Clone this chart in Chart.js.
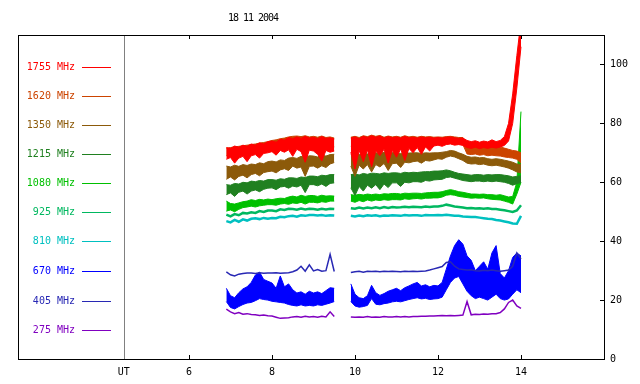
<!DOCTYPE html>
<html>
<head>
<meta charset="utf-8">
<script src="https://cdn.jsdelivr.net/npm/chart.js@4.4.1/dist/chart.umd.min.js"></script>
<style>
  html, body { margin: 0; padding: 0; background: #fff; }
  #wrap { width: 640px; height: 384px; }
</style>
</head>
<body>
<div id="wrap"><canvas id="graphCanvas" width="640" height="384"></canvas></div>
<script>
// UT hours; 9.7 is the data gap
const times = [6.9,7.0,7.1,7.2,7.3,7.4,7.5,7.6,7.7,7.8,7.9,8.0,8.1,8.2,8.3,8.4,8.5,8.6,8.7,8.8,8.9,9.0,9.1,9.2,9.3,9.4,9.5,
  9.7,
  9.9,10.0,10.1,10.2,10.3,10.4,10.5,10.6,10.7,10.8,10.9,11.0,11.1,11.2,11.3,11.4,11.5,11.6,11.7,11.8,11.9,12.0,
  12.1,12.2,12.3,12.4,12.5,12.6,12.7,12.8,12.9,13.0,13.1,13.2,13.3,13.4,13.5,13.6,13.7,13.8,13.9,14.0];

const xTickValues = [4.43, 6, 8, 10, 12, 14];
const xTickLabels = ['UT', '6', '8', '10', '12', '14'];
const yTickValues = [0, 20, 40, 60, 80, 100];
const legendLabels = ['1755 MHz','1620 MHz','1350 MHz','1215 MHz','1080 MHz','925 MHz','810 MHz','670 MHz','405 MHz','275 MHz'];
const legendColors = ['#ff0000','#cc4400','#8c5a0a','#208020','#00c000','#00b860','#00c0c0','#0000ff','#2828b4','#8000c0'];
const legendRows = [99.3, 89.3, 79.4, 69.5, 59.7, 49.8, 39.9, 29.8, 19.8, 9.9];

const f1755hi = [71.8,71.5,72.3,71.9,72.6,72.2,73.0,72.6,73.4,73.0,73.8,74.0,73.6,74.6,74.3,75.2,74.8,75.4,74.9,75.6,75.0,75.3,74.8,75.5,74.9,75.1,74.7,
  null,
  75.0,75.4,74.8,75.6,75.2,75.8,75.3,75.7,75.0,75.5,75.1,75.4,75.0,75.6,75.1,75.3,75.0,75.4,75.1,75.3,75.0,75.2,75.0,75.3,75.4,75.1,74.9,75.0,74.2,73.8,74.1,73.6,74.0,73.7,74.4,73.8,74.2,75.5,80.0,90.0,103.0,115.0];
const f1755lo = [67.8,68.4,66.5,68.2,68.8,67.0,69.0,69.4,68.2,69.8,70.0,70.4,69.2,70.8,70.2,71.0,68.8,71.2,70.4,66.8,70.9,70.6,69.5,67.2,70.8,70.2,70.6,
  null,
  70.2,64.5,70.8,67.0,71.0,65.2,70.6,69.0,71.2,66.5,70.8,68.5,71.3,67.4,71.5,70.0,71.8,69.5,72.0,70.6,72.3,72.6,72.2,72.8,73.0,72.6,72.8,72.5,71.8,71.5,71.9,71.4,71.8,71.5,71.9,71.6,72.0,72.5,74.0,80.0,92.0,106.0];

const f1620hi = [71.5,71.8,72.0,72.2,72.4,72.6,72.8,73.0,73.3,73.5,73.8,74.2,74.4,74.8,75.0,75.4,75.6,75.7,75.5,75.8,75.4,75.6,75.3,75.7,75.2,75.4,75.0,
  null,
  75.3,75.6,75.2,75.8,75.5,76.0,75.6,75.9,75.3,75.7,75.4,75.6,75.3,75.8,75.4,75.6,75.3,75.6,75.4,75.5,75.3,75.4,75.3,75.5,75.6,75.4,75.2,75.2,73.0,72.6,72.8,72.4,72.6,72.2,72.4,72.2,72.0,71.6,71.2,70.8,70.6,70.0];
const f1620lo = [69.0,69.4,69.6,69.8,70.0,70.2,70.4,70.6,70.8,71.0,71.2,71.4,71.6,71.8,72.0,72.2,72.2,72.4,72.2,72.4,72.2,72.3,72.1,72.3,72.0,72.2,72.0,
  null,
  72.2,72.4,72.2,72.6,72.4,72.6,72.4,72.6,72.4,72.6,72.5,72.6,72.5,72.7,72.6,72.7,72.6,72.7,72.6,72.8,72.7,72.8,72.8,73.0,73.2,73.0,72.9,72.8,69.6,69.4,69.6,69.2,69.4,69.0,69.2,69.0,68.9,68.6,68.4,68.2,67.8,66.5];

const f1350hi = [65.5,65.2,65.8,65.4,66.0,65.7,66.2,66.0,66.6,66.3,67.0,67.2,66.9,67.6,67.4,68.2,68.4,68.1,68.8,68.5,69.0,68.9,68.6,69.2,68.9,69.4,69.5,
  null,
  69.5,69.8,69.4,70.0,69.6,70.2,70.0,69.8,70.2,69.9,70.1,70.0,69.8,70.1,69.9,70.0,70.0,69.8,70.0,69.9,70.0,70.0,70.2,70.4,70.8,70.6,70.0,69.5,68.8,68.5,68.6,68.3,68.4,68.0,67.8,68.0,67.8,67.5,67.2,66.8,66.2,66.0];
const f1350lo = [61.0,61.8,60.8,62.0,62.4,61.5,62.6,63.0,62.2,63.3,63.6,63.8,63.2,64.2,64.6,64.0,65.5,64.8,65.2,62.0,65.4,65.5,64.8,65.6,65.0,66.2,66.7,
  null,
  65.5,62.0,65.8,64.5,66.0,63.5,66.0,65.2,66.4,64.0,66.3,66.5,65.0,66.8,66.6,67.0,67.2,66.5,67.4,67.2,67.6,68.0,67.8,68.5,68.9,68.6,68.0,67.4,66.5,66.2,66.3,66.0,66.2,65.8,65.6,65.8,65.5,65.2,64.8,64.2,63.5,63.2];

const f1215hi = [59.2,59.0,59.6,59.4,60.0,59.8,60.4,60.2,60.6,60.4,60.9,60.9,60.7,61.2,61.0,61.5,61.5,61.3,61.8,61.6,62.1,62.1,61.9,62.4,62.2,62.6,62.6,
  null,
  62.6,62.8,62.5,63.0,62.7,63.1,63.0,62.8,63.2,63.0,63.2,63.2,63.0,63.4,63.2,63.4,63.3,63.5,63.6,63.6,63.8,63.8,63.9,64.2,63.9,63.4,63.0,62.8,62.6,62.4,62.6,62.6,62.4,62.6,62.5,62.6,62.6,62.4,62.2,61.8,62.0,62.2];
const f1215lo = [55.8,56.4,55.2,56.6,57.0,56.0,57.0,57.4,56.8,57.6,58.0,58.1,57.5,58.4,58.6,58.0,58.7,58.4,59.0,56.5,59.2,59.2,58.8,59.4,58.6,59.6,59.8,
  null,
  58.1,55.5,58.6,57.0,59.0,58.0,59.2,57.5,59.4,58.2,59.8,59.8,58.6,60.0,59.8,60.2,60.2,60.0,60.6,60.4,60.8,60.9,61.0,61.6,61.8,61.4,61.0,60.6,60.4,60.2,60.4,60.4,60.2,60.4,60.2,60.4,60.2,60.0,59.6,59.0,59.5,60.0];

const f1080hi = [53.6,52.8,52.6,53.0,53.4,53.6,54.1,53.8,54.2,54.0,54.3,54.1,54.4,54.6,54.5,55.0,55.3,55.0,55.6,55.2,55.5,55.5,55.2,55.6,55.3,55.4,55.3,
  null,
  55.8,55.6,55.9,55.7,56.0,55.8,56.0,55.8,56.1,56.0,56.2,56.2,56.0,56.3,56.2,56.3,56.3,56.2,56.4,56.5,56.6,56.6,56.8,57.2,57.5,57.2,56.8,56.6,56.3,56.0,56.0,55.9,56.0,55.8,55.8,55.6,55.8,55.4,55.0,55.2,60.0,84.0];
const f1080lo = [50.2,50.6,50.0,50.8,51.4,51.6,51.9,51.6,52.0,52.2,52.4,52.4,52.2,52.6,52.8,52.5,53.0,52.8,53.2,52.6,53.2,53.2,53.0,53.4,53.2,53.6,53.6,
  null,
  53.6,53.2,53.8,53.4,54.0,53.6,54.0,53.8,54.1,53.9,54.1,54.1,54.0,54.4,54.2,54.4,54.5,54.3,54.6,54.6,54.7,54.7,55.0,55.6,55.8,55.6,55.2,55.0,54.8,54.6,54.7,54.6,54.7,54.4,54.2,54.1,54.0,53.6,53.2,52.6,56.0,60.0];

const f925 = [49.0,48.4,49.2,48.8,49.6,49.4,49.8,49.6,50.2,49.9,50.4,50.4,50.2,50.8,50.6,51.0,50.9,50.7,51.1,50.8,51.0,50.9,50.7,51.0,50.8,51.0,50.9,
  null,
  51.2,51.0,51.4,51.1,51.4,51.2,51.5,51.2,51.6,51.3,51.6,51.4,51.5,51.7,51.5,51.7,51.6,51.5,51.8,51.6,51.8,51.8,52.0,52.4,52.1,51.8,51.6,51.4,51.2,51.3,51.1,51.2,51.0,51.2,50.9,50.9,50.7,50.5,50.2,49.9,50.4,52.2];

const f810 = [46.8,46.4,47.2,46.6,47.4,47.0,47.6,47.8,47.5,47.9,47.6,47.9,47.8,48.3,48.1,48.5,48.6,48.3,48.8,48.6,48.9,48.9,48.7,48.9,48.6,48.8,48.7,
  null,
  48.6,48.4,48.7,48.5,48.8,48.6,48.8,48.5,48.7,48.6,48.8,48.7,48.6,48.9,48.7,48.8,48.8,48.6,48.9,48.8,48.8,48.9,48.8,49.0,48.8,48.6,48.6,48.4,48.3,48.2,48.2,48.0,47.8,47.6,47.5,47.2,47.0,46.7,46.4,46.0,45.9,48.6];

const f670hi = [24.0,21.5,20.8,22.5,23.8,24.5,26.0,28.5,29.5,27.0,26.4,25.8,24.0,28.2,24.5,25.5,23.5,22.4,22.8,22.0,23.0,22.4,22.8,22.2,23.2,24.2,24.0,
  null,
  25.5,22.0,20.8,20.5,21.5,25.0,22.5,21.6,22.2,23.0,23.5,24.0,23.2,24.2,24.8,25.5,26.0,24.8,25.2,24.5,25.0,24.8,26.0,30.5,35.0,38.5,40.5,39.0,35.0,33.5,30.0,31.5,33.0,30.5,36.0,38.5,29.0,27.5,30.0,34.5,36.0,35.0];
const f670lo = [19.5,17.5,17.0,17.8,18.5,19.0,19.2,19.8,20.5,20.2,20.0,19.6,19.4,19.2,19.0,18.5,18.2,18.0,18.4,18.0,18.2,18.0,18.4,18.2,18.6,19.0,19.5,
  null,
  19.5,18.0,17.6,17.8,18.2,20.5,18.6,18.4,18.8,19.0,19.4,19.6,19.4,19.8,20.2,20.5,20.8,20.4,20.6,20.2,20.4,20.5,21.0,23.5,26.0,27.5,28.0,25.5,23.0,21.5,20.5,21.0,20.5,20.0,21.0,22.0,20.5,20.0,20.4,22.0,23.5,22.5];

const f405 = [29.6,28.6,28.2,28.8,29.0,29.2,29.2,29.0,29.3,29.1,29.2,29.2,29.3,29.1,29.2,29.3,29.6,30.2,31.5,29.8,32.0,29.9,30.4,29.8,30.0,35.5,29.7,
  null,
  29.4,29.6,29.8,29.5,29.8,29.7,29.8,29.6,29.8,29.7,29.8,29.7,29.6,29.8,29.7,29.8,29.7,29.8,29.9,30.2,30.6,31.0,31.4,32.8,33.0,31.5,30.6,30.4,30.2,30.3,30.0,29.9,30.1,30.0,30.2,30.0,29.8,30.0,30.2,31.5,36.0,34.0];

const f275 = [16.9,16.0,15.4,15.8,15.2,15.4,15.1,15.0,14.8,14.9,14.7,14.6,14.2,13.8,13.9,14.0,14.3,14.4,14.2,14.5,14.3,14.4,14.2,14.5,14.3,16.0,14.4,
  null,
  14.3,14.2,14.3,14.2,14.4,14.2,14.3,14.2,14.4,14.3,14.3,14.4,14.3,14.4,14.3,14.4,14.4,14.5,14.5,14.6,14.6,14.7,14.8,14.7,14.8,14.7,14.8,14.9,19.5,15.0,15.2,15.1,15.3,15.2,15.4,15.4,15.8,17.0,19.2,20.0,18.0,17.2];

// [hi, lo or null, colour, line width]; first entry is drawn on top
const series = [
  [f1755hi, f1755lo, legendColors[0], 1],
  [f1620hi, f1620lo, legendColors[1], 1],
  [f1350hi, f1350lo, legendColors[2], 1],
  [f1215hi, f1215lo, legendColors[3], 1],
  [f1080hi, f1080lo, legendColors[4], 1],
  [f925, null, legendColors[5], 2.5],
  [f810, null, legendColors[6], 2.5],
  [f405, null, legendColors[8], 1.5],
  [f670hi, f670lo, legendColors[7], 1],
  [f275, null, legendColors[9], 1.5]
];

const toPoints = arr => {
  if (arr.length !== times.length) throw new Error('length mismatch ' + arr.length);
  return times.map((t, i) => ({ x: t, y: arr[i] }));
};

const datasets = [];
series.forEach(([hi, lo, color, w]) => {
  datasets.push({ data: toPoints(hi), borderColor: color, backgroundColor: color, borderWidth: w, fill: false });
  if (lo) datasets.push({ data: toPoints(lo), borderColor: color, backgroundColor: color, borderWidth: w, fill: '-1' });
});

const monoFont = { family: 'DejaVu Sans Mono', size: 10 };

const framePlugin = {
  id: 'frame',
  afterDraw(chart) {
    const c = chart.ctx;
    const a = chart.chartArea;
    const xs = chart.scales.x, ys = chart.scales.y;
    c.save();
    // title
    c.fillStyle = '#000';
    c.font = '10px "DejaVu Sans Mono"';
    c.letterSpacing = '-1px';
    c.textAlign = 'center';
    c.textBaseline = 'middle';
    c.fillText('18 11 2004', 253, 18);
    c.letterSpacing = '0px';
    // UT line
    const ux = Math.round(xs.getPixelForValue(xTickValues[0])) + 0.5;
    c.strokeStyle = '#808080';
    c.lineWidth = 1;
    c.beginPath(); c.moveTo(ux, a.top); c.lineTo(ux, a.bottom); c.stroke();
    // frame
    c.strokeStyle = '#000';
    c.strokeRect(a.left + 0.5, a.top + 0.5, a.right - a.left, a.bottom - a.top);
    // tick marks
    c.beginPath();
    xTickValues.slice(1).forEach(v => {
      const px = Math.round(xs.getPixelForValue(v)) + 0.5;
      c.moveTo(px, a.bottom); c.lineTo(px, a.bottom - 4);
      c.moveTo(px, a.top); c.lineTo(px, a.top + 4);
    });
    yTickValues.forEach(v => {
      const py = Math.round(ys.getPixelForValue(v)) + 0.5;
      c.moveTo(a.right, py); c.lineTo(a.right - 4, py);
    });
    c.stroke();
    // legend
    c.font = '10px "DejaVu Sans Mono"';
    c.textAlign = 'right';
    c.lineWidth = 1;
    legendLabels.forEach((lab, i) => {
      const py = Math.round(ys.getPixelForValue(legendRows[i])) + 0.5;
      c.fillStyle = legendColors[i];
      c.fillText(lab, 75, py);
      c.strokeStyle = legendColors[i];
      c.beginPath(); c.moveTo(82, py); c.lineTo(111, py); c.stroke();
    });
    c.restore();
  }
};

new Chart(document.getElementById('graphCanvas').getContext('2d'), {
  type: 'line',
  data: { datasets },
  options: {
    responsive: false,
    animation: false,
    events: [],
    spanGaps: false,
    layout: { padding: { left: 18, top: 35, right: 0, bottom: 0 } },
    elements: { point: { radius: 0 }, line: { tension: 0 } },
    plugins: { legend: { display: false }, tooltip: { enabled: false }, title: { display: false } },
    scales: {
      x: {
        type: 'linear', min: 1.88, max: 16,
        grid: { display: false, drawTicks: false }, border: { display: false },
        afterBuildTicks: s => { s.ticks = xTickValues.map(v => ({ value: v })); },
        afterFit: s => { s.height = 25; },
        ticks: {
          color: '#000', font: monoFont, padding: 7, maxRotation: 0, autoSkip: false,
          callback: (v) => xTickLabels[xTickValues.indexOf(v)]
        }
      },
      y: {
        type: 'linear', position: 'right', min: 0, max: 110,
        grid: { display: false, drawTicks: false }, border: { display: false },
        afterBuildTicks: s => { s.ticks = yTickValues.map(v => ({ value: v })); },
        afterFit: s => { s.width = 36; },
        ticks: { color: '#000', font: monoFont, padding: 6, autoSkip: false }
      }
    }
  },
  plugins: [framePlugin]
});
</script>
</body>
</html>
